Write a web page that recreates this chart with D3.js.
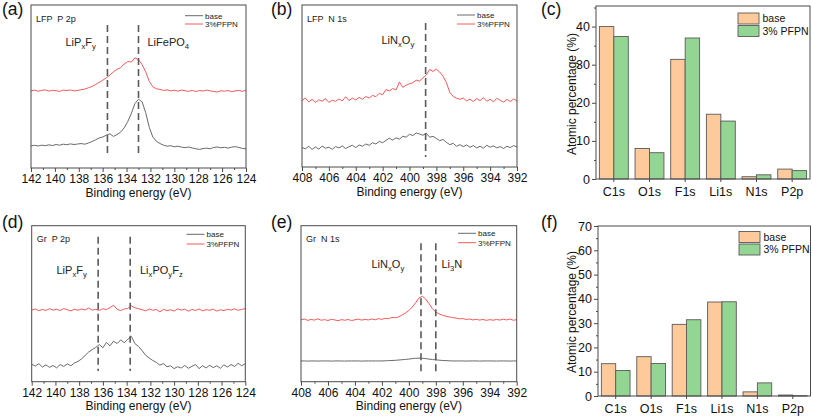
<!DOCTYPE html>
<html><head><meta charset="utf-8">
<script src="https://cdn.jsdelivr.net/npm/d3@7"></script>
<style>body{margin:0;background:#fff}svg{display:block;font-family:"Liberation Sans",Arial,sans-serif}</style>
</head><body><svg id="chart" width="813" height="419"></svg>
<script>
// ---------- DATA ----------
const energyP = [142.0,141.7,141.4,141.1,140.8,140.5,140.2,139.9,139.6,139.3,139.0,138.7,138.4,138.1,137.8,137.5,137.2,136.9,136.6,136.3,136.0,135.7,135.4,135.1,134.8,134.5,134.2,133.9,133.6,133.3,133.0,132.7,132.4,132.1,131.8,131.5,131.2,130.9,130.6,130.3,130.0,129.7,129.4,129.1,128.8,128.5,128.2,127.9,127.6,127.3,127.0,126.7,126.4,126.1,125.8,125.5,125.2,124.9,124.6,124.3,124.0];
const energyN = [408,407.75,407.5,407.25,407,406.75,406.5,406.25,406,405.75,405.5,405.25,405,404.75,404.5,404.25,404,403.75,403.5,403.25,403,402.75,402.5,402.25,402,401.75,401.5,401.25,401,400.75,400.5,400.25,400,399.75,399.5,399.25,399,398.75,398.5,398.25,398,397.75,397.5,397.25,397,396.75,396.5,396.25,396,395.75,395.5,395.25,395,394.75,394.5,394.25,394,393.75,393.5,393.25,393,392.75,392.5,392.25,392];

// (a) LFP P 2p
const lfpP2pBase = [13.6,13.9,13.5,14.0,13.7,14.2,13.8,14.4,14.0,14.6,14.3,14.8,14.4,14.7,15.0,14.6,15.3,16.2,17.3,18.4,19.0,20.1,21.0,19.4,20.5,22.0,24.6,28.5,33.5,39.5,42.2,40.6,34.0,25.0,19.0,16.4,15.0,14.0,13.4,13.7,13.0,13.4,12.8,12.5,12.9,12.3,11.8,11.4,11.9,12.2,11.8,12.6,12.9,12.4,12.7,12.2,12.8,13.1,12.6,12.0,11.8];
const lfpP2pPfpn = [47.3,47.8,47.1,47.6,47.9,47.2,47.7,47.4,47.0,47.8,47.5,47.9,47.3,47.6,48.0,48.4,49.2,50.0,51.2,52.5,53.8,55.3,57.0,59.0,60.5,61.5,63.8,65.3,65.0,67.6,66.4,63.5,59.0,53.2,49.8,48.6,48.2,47.6,47.9,47.3,47.7,47.2,47.8,47.4,47.0,47.6,46.9,47.5,47.2,47.8,47.3,47.0,46.6,47.4,47.1,47.5,46.8,47.3,47.6,47.0,47.8];
// (b) LFP N 1s
const lfpN1sBase = [12.0,11.2,12.8,10.8,12.4,11.0,12.9,11.6,12.2,10.9,12.6,11.8,13.0,11.4,12.6,13.4,12.0,13.6,12.8,14.2,13.4,15.0,14.2,15.8,15.0,16.4,17.8,16.6,18.0,17.2,19.0,18.4,20.2,19.4,21.0,20.4,19.6,20.8,18.4,18.9,17.6,16.2,17.0,15.2,13.8,14.6,12.8,13.8,12.6,13.6,12.2,13.2,11.8,12.8,11.6,13.4,12.2,13.0,11.8,12.6,11.4,12.8,12.0,13.2,12.4];
const lfpN1sPfpn = [41.0,42.6,40.2,41.8,39.8,41.5,40.6,42.2,39.9,41.2,40.5,42.0,40.8,43.4,41.0,42.5,41.4,43.0,41.8,43.5,42.6,44.2,43.4,45.5,44.6,47.8,47.0,48.4,47.6,52.5,49.2,50.5,51.4,52.0,53.6,53.0,55.0,56.8,60.2,59.0,60.4,58.6,56.0,52.0,46.0,43.6,42.4,41.8,42.6,40.8,41.9,40.4,42.2,41.0,42.8,40.6,41.8,40.2,42.4,41.2,40.0,41.8,40.4,42.0,40.8];
// (d) Gr P 2p
const grP2pBase = [11.2,10.0,11.6,9.4,10.8,9.2,10.4,8.9,11.0,9.8,11.4,10.2,12.0,13.0,14.6,16.8,19.0,20.6,22.0,23.8,21.8,25.2,23.0,26.0,24.4,26.8,25.0,27.2,29.0,24.4,22.6,20.0,17.0,15.2,13.6,12.4,10.6,11.6,9.6,10.2,8.4,9.6,8.8,10.4,8.6,9.8,11.0,8.4,10.2,8.8,10.6,9.0,10.2,8.6,10.8,9.4,11.0,9.8,11.8,10.2,11.6];
const grP2pPfpn = [46.0,46.6,45.5,46.3,45.7,46.8,45.9,46.4,45.6,46.9,46.1,45.4,46.5,45.8,46.6,46.0,47.2,45.9,46.4,45.7,46.8,46.2,47.5,49.0,46.4,45.6,46.6,47.0,48.6,47.4,46.8,46.2,45.4,46.6,45.8,46.3,44.8,46.4,45.6,46.1,45.3,46.7,45.9,46.5,45.2,46.3,45.7,46.6,45.4,46.2,45.8,46.5,45.3,46.1,45.6,46.4,45.9,46.7,45.8,46.3,46.9];
// (e) Gr N 1s
const grN1sBase = [13.3,13.3,13.2,13.3,13.3,13.2,13.3,13.3,13.3,13.2,13.3,13.3,13.3,13.2,13.3,13.3,13.3,13.3,13.2,13.3,13.3,13.3,13.3,13.3,13.3,13.4,13.5,13.6,13.7,13.9,14.1,14.3,14.5,14.8,15.0,15.1,15.0,14.8,14.5,14.2,14.0,13.8,13.6,13.5,13.4,13.3,13.3,13.3,13.3,13.2,13.3,13.3,13.3,13.2,13.3,13.3,13.3,13.3,13.2,13.3,13.3,13.3,13.2,13.3,13.3];
const grN1sPfpn = [39.6,40.2,39.3,39.9,39.5,40.3,39.4,39.8,39.2,40.0,39.6,39.1,39.8,39.4,39.9,39.2,39.7,40.1,39.5,39.9,39.6,40.2,39.7,40.4,40.0,40.6,40.4,41.2,41.0,41.6,42.8,44.0,45.6,47.8,50.6,53.6,54.8,53.0,50.0,46.8,44.6,43.4,42.6,42.0,41.5,41.1,40.8,40.3,40.5,39.9,40.2,39.6,40.0,39.5,39.9,39.3,39.8,39.4,39.9,39.5,40.1,39.6,40.2,39.4,39.8];

const ticksP = [142,140,138,136,134,132,130,128,126,124];
const ticksN = [408,406,404,402,400,398,396,394,392];

// atomic percentages
const elements = ["C1s","O1s","F1s","Li1s","N1s","P2p"];
const lfpBaseAt = [40.0,8.0,31.4,17.0,0.6,2.6];
const lfpPfpnAt = [37.4,6.9,37.0,15.2,1.1,2.2];
const grBaseAt  = [13.3,16.2,29.5,38.7,1.7,0.4];
const grPfpnAt  = [10.5,13.4,31.4,38.8,5.4,0.15];
const lfpAtTicks = [0,10,20,30,40];
const grAtTicks = [0,10,20,30,40,50,60,70];

const seriesNames = ["base","3%PFPN"];
const barSeriesNames = ["base","3% PFPN"];

// ---------- DRAWING ----------
const svg = d3.select("#chart");
const FF = '"Liberation Sans", Arial, sans-serif';
const FRAME = "#4a4a4a";
const GRAY = "#6a6a6a", RED = "#f25a5a";
const PEACH = "#ffca9b", GREEN = "#93d693";

function richText(g, x, y, parts, size) {
  const t = g.append("text").attr("x", x).attr("y", y).attr("font-size", size).attr("fill", "#222");
  let sub = false;
  parts.forEach(p => {
    const isSub = p.startsWith("_");
    const s = isSub ? p.slice(1) : p;
    const ts = t.append("tspan").text(s);
    if (isSub) { ts.attr("font-size", size * 0.7); if (!sub) { ts.attr("dy", 3); sub = true; } }
    else if (sub) { ts.attr("dy", -3); sub = false; }
  });
}

function xpsPanel(o) {
  const g = svg.append("g");
  const x = d3.scaleLinear().domain(o.domain).range([o.x0, o.x1]);
  const y = d3.scaleLinear().domain([0, 100]).range([o.y1, o.y0]);
  const minor = d3.range(o.domain[0] - 1, o.domain[1], -2);
  g.append("g").attr("transform", `translate(0,${o.y1})`)
    .call(d3.axisBottom(x).tickValues(minor).tickSize(2).tickFormat(""))
    .call(a => a.select(".domain").remove())
    .selectAll("line").attr("stroke", FRAME);
  const ax = g.append("g").attr("transform", `translate(0,${o.y1})`)
    .call(d3.axisBottom(x).tickValues(o.ticks).tickSize(4).tickPadding(2.5).tickFormat(d3.format("d")));
  ax.select(".domain").remove();
  ax.selectAll("line").attr("stroke", FRAME);
  ax.selectAll("text").attr("font-size", 12).attr("fill", "#111").attr("font-family", FF);
  g.append("text").attr("x", (o.x0 + o.x1) / 2).attr("y", o.y1 + 28.5).attr("text-anchor", "middle")
    .attr("font-size", 12).attr("fill", "#111").text("Binding energy (eV)");
  const line = d3.line().x((d, i) => x(o.energy[i])).y(d => y(d));
  g.append("path").datum(o.base).attr("d", line).attr("fill", "none").attr("stroke", GRAY).attr("stroke-width", 1);
  g.append("path").datum(o.pfpn).attr("d", line).attr("fill", "none").attr("stroke", RED).attr("stroke-width", 1);
  g.selectAll(".mk").data(o.marks).join("line")
    .attr("x1", d => x(d)).attr("x2", d => x(d))
    .attr("y1", o.y0 + o.mkTop).attr("y2", o.y1 - o.mkBot)
    .attr("stroke", "#5a5a5a").attr("stroke-width", 1.6).attr("stroke-dasharray", "7,4");
  g.append("rect").attr("x", o.x0).attr("y", o.y0).attr("width", o.x1 - o.x0).attr("height", o.y1 - o.y0)
    .attr("fill", "none").attr("stroke", FRAME).attr("stroke-width", 1);
  g.append("text").attr("x", o.x0 + 5).attr("y", o.y0 + 16.5).attr("font-size", 9).attr("fill", "#222")
    .style("white-space", "pre").text(o.title);
  const lg = g.append("g");
  [GRAY, RED].forEach((c, i) => {
    const ly = o.legY + i * o.legDy;
    lg.append("line").attr("x1", o.legX).attr("x2", o.legX + 18).attr("y1", ly).attr("y2", ly).attr("stroke", c).attr("stroke-width", 1);
    lg.append("text").attr("x", o.legX + 20).attr("y", ly + 2.8).attr("font-size", 8).attr("fill", "#222").text(seriesNames[i]);
  });
  o.notes.forEach(n => richText(g, n.x, n.y, n.parts, 11));
  svg.append("text").attr("x", o.lx).attr("y", o.ly).attr("font-size", 17.5).attr("fill", "#111").text(o.label);
}

function barPanel(o) {
  const g = svg.append("g");
  const x = d3.scaleBand().domain(elements).range([o.x0, o.x1]).paddingInner(0.19).paddingOuter(0.095);
  const x1 = d3.scaleBand().domain([0, 1]).range([0, x.bandwidth()]);
  const y = d3.scaleLinear().domain([0, o.top]).range([o.y1, o.y0]);
  const minor = d3.range(5, o.top, 10);
  g.append("g").attr("transform", `translate(${o.x0},0)`)
    .call(d3.axisLeft(y).tickValues(minor).tickSize(2).tickFormat(""))
    .call(a => a.select(".domain").remove()).selectAll("line").attr("stroke", FRAME);
  const ay = g.append("g").attr("transform", `translate(${o.x0},0)`)
    .call(d3.axisLeft(y).tickValues(o.ticks).tickSize(4).tickPadding(2));
  ay.select(".domain").remove();
  ay.selectAll("line").attr("stroke", FRAME);
  ay.selectAll("text").attr("font-size", 12.5).attr("fill", "#111").attr("font-family", FF);
  const ax = g.append("g").attr("transform", `translate(0,${o.y1})`)
    .call(d3.axisBottom(x).tickSize(3).tickPadding(5));
  ax.select(".domain").remove();
  ax.selectAll("line").attr("stroke", FRAME);
  ax.selectAll("text").attr("font-size", 12.5).attr("fill", "#111").attr("font-family", FF);
  [o.base, o.pfpn].forEach((vals, si) => {
    g.selectAll(null).data(vals).join("rect")
      .attr("x", (d, i) => x(elements[i]) + x1(si))
      .attr("y", d => y(d)).attr("width", x1.bandwidth()).attr("height", d => o.y1 - y(d))
      .attr("fill", si ? GREEN : PEACH).attr("stroke", "#5a5a5a").attr("stroke-width", 0.9);
  });
  g.append("rect").attr("x", o.x0).attr("y", o.y0).attr("width", o.x1 - o.x0).attr("height", o.y1 - o.y0)
    .attr("fill", "none").attr("stroke", FRAME).attr("stroke-width", 1);
  g.append("text").attr("transform", `translate(${o.tx},${o.ty}) rotate(-90)`).attr("text-anchor", "middle")
    .attr("font-size", 12).attr("fill", "#111").text("Atomic percentage (%)");
  [PEACH, GREEN].forEach((c, i) => {
    const by = o.legY + i * 12.5;
    g.append("rect").attr("x", o.legX).attr("y", by).attr("width", 21).attr("height", 11)
      .attr("fill", c).attr("stroke", "#5a5a5a").attr("stroke-width", 0.9);
    g.append("text").attr("x", o.legX + 24.5).attr("y", by + 9).attr("font-size", 10.5).attr("fill", "#111").text(barSeriesNames[i]);
  });
  svg.append("text").attr("x", o.lx).attr("y", o.ly).attr("font-size", 17.5).attr("fill", "#111").text(o.label);
}

xpsPanel({label:"(a)", lx:2, ly:15, x0:31, x1:246, y0:5, y1:168, domain:[142,124], ticks:ticksP,
  energy:energyP, base:lfpP2pBase, pfpn:lfpP2pPfpn, marks:[135.6,133.0], mkTop:20, mkBot:11,
  title:"LFP  P 2p", legX:185, legY:15.7, legDy:8.3,
  notes:[{x:65.5,y:45.5,parts:["LiP","_x","F","_y"]},{x:147.5,y:45.5,parts:["LiFePO","_4"]}]});
xpsPanel({label:"(b)", lx:271, ly:15, x0:302, x1:517, y0:5, y1:167, domain:[408,392], ticks:ticksN,
  energy:energyN, base:lfpN1sBase, pfpn:lfpN1sPfpn, marks:[398.8], mkTop:18, mkBot:10,
  title:"LFP  N 1s", legX:457, legY:15, legDy:9,
  notes:[{x:381.5,y:44,parts:["LiN","_x","O","_y"]}]});
xpsPanel({label:"(d)", lx:2, ly:228, x0:31.7, x1:245.3, y0:225.7, y1:381.7, domain:[142,124], ticks:ticksP,
  energy:energyP, base:grP2pBase, pfpn:grP2pPfpn, marks:[136.4,133.7], mkTop:11, mkBot:10.7,
  title:"Gr  P 2p", legX:186.5, legY:234.3, legDy:9.7,
  notes:[{x:56.5,y:274,parts:["LiP","_x","F","_y"]},{x:140,y:274,parts:["Li","_x","PO","_y","F","_z"]}]});
xpsPanel({label:"(e)", lx:271, ly:228, x0:301, x1:516.7, y0:225.7, y1:381.7, domain:[408,392], ticks:ticksN,
  energy:energyN, base:grN1sBase, pfpn:grN1sPfpn, marks:[399.1,398.0], mkTop:17.6, mkBot:6.7,
  title:"Gr  N 1s", legX:458, legY:233.3, legDy:9.4,
  notes:[{x:371.5,y:267.5,parts:["LiN","_x","O","_y"]},{x:441.5,y:267.5,parts:["Li","_3","N"]}]});

barPanel({label:"(c)", lx:541, ly:15, x0:596, x1:810, y0:6, y1:179, top:45.4, ticks:lfpAtTicks,
  base:lfpBaseAt, pfpn:lfpPfpnAt, tx:575.5, ty:94, legX:738, legY:13});
barPanel({label:"(f)", lx:541, ly:228, x0:598, x1:810.5, y0:226, y1:396, top:70, ticks:grAtTicks,
  base:grBaseAt, pfpn:grPfpnAt, tx:576, ty:312, legX:739, legY:231.5});
</script></body></html>
